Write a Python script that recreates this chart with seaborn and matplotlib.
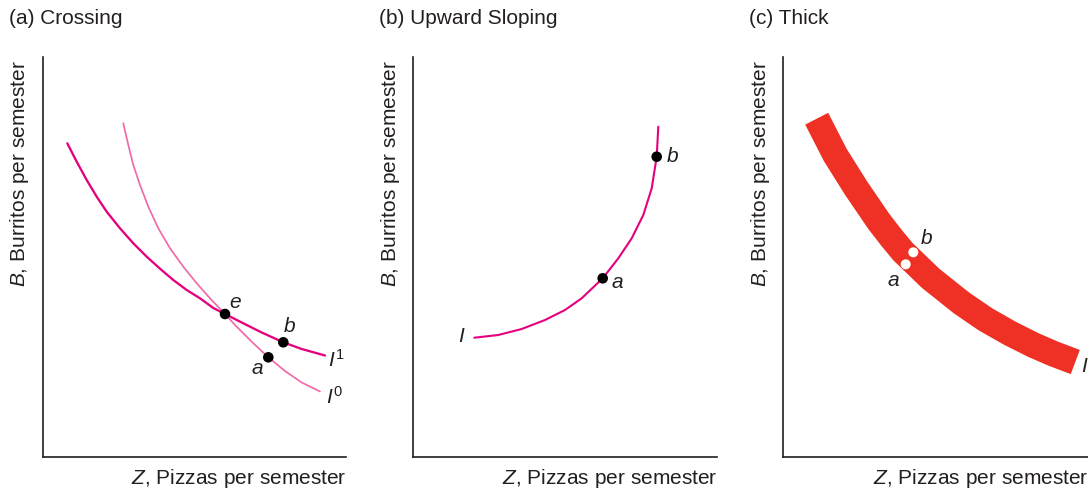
import numpy as np
import pandas as pd
import matplotlib
matplotlib.use("Agg")
import matplotlib.pyplot as plt
import seaborn as sns

# Valeurs (unités = pixels depuis l'origine des axes)
# (a) Crossing
i1_z = [24.3, 33.7, 43.7, 53.7, 63.7, 77, 90.3, 103.7, 117, 130.3, 143.7, 157, 170.3,
        182, 198.7, 218.7, 240.3, 258.7, 282]
i1_b = [313.7, 295.3, 277, 260.3, 245.3, 228.7, 213.7, 200.3, 188.3, 177, 167, 158.7, 149,
        143, 134.5, 124.5, 114.7, 108, 101.5]
i0_z = [80.3, 85.3, 90.3, 97, 105.3, 115.3, 127, 140.3, 153.7, 167, 182, 192, 208.7,
        225.3, 242, 258.7, 277]
i0_b = [333.7, 312, 292, 272, 250.3, 228.7, 208.7, 190.3, 173.7, 158.7, 143, 132, 115.3,
        99.7, 86, 74.5, 65.5]
pts_a_nom = ["e", "b", "a"]
pts_a_z = [182, 240.3, 225.3]
pts_a_b = [143, 114.7, 99.7]

# (b) Upward Sloping
up_z = [61.3, 85.3, 108.7, 132, 152, 168.7, 189.7, 205.3, 218.7, 230.3, 238.7, 243.7, 245.3]
up_b = [119.3, 122, 128, 137, 147, 158.7, 178.7, 198.7, 218.7, 242, 268.7, 300.3, 330.3]
pts_b_nom = ["a", "b"]
pts_b_z = [189.7, 243.7]
pts_b_b = [178.7, 300.3]

# (c) Thick (milieu de la bande)
thick_z = [33.7, 52.3, 73.2, 84.6, 96, 108.9, 120, 147.6, 178.3, 202.7, 227, 250.3,
           270.3, 292.3]
thick_b = [338.3, 302, 268.7, 252, 235.3, 218.7, 205.3, 178.7, 154.2, 137.5, 123.7, 112,
           103.3, 95]
pts_c_nom = ["a", "b"]
pts_c_z = [122.7, 130.3]
pts_c_b = [192.7, 204.7]

titres = ["(a) Crossing", "(b) Upward Sloping", "(c) Thick"]

sns.set_style("white")
plt.rcParams['font.family'] = ['Liberation Sans', 'DejaVu Sans']
plt.rcParams['mathtext.fontset'] = 'custom'
plt.rcParams['mathtext.rm'] = 'Liberation Sans'
plt.rcParams['mathtext.it'] = 'Liberation Sans:italic'

W, H = 1088, 491
fig = plt.figure(figsize=(W / 100, H / 100), dpi=100)

fs = 15
rose_fonce = "#E5007D"
rose_clair = "#F06BA8"
rouge = "#EE3124"
noir = "#231F20"

# positions des axes (origine en pixels, largeur)
origines = [(43, 457, 303), (413, 457, 304), (783, 457, 305)]
axes = []
for (x0, y0, w), titre in zip(origines, titres):
    ax = fig.add_axes([x0 / W, (H - y0) / H, w / W, 400 / H])
    ax.set_xlim(0, w)
    ax.set_ylim(0, 400)
    ax.set_xticks([])
    ax.set_yticks([])
    for s in ["top", "right"]:
        ax.spines[s].set_visible(False)
    for s in ["left", "bottom"]:
        ax.spines[s].set_color(noir)
        ax.spines[s].set_linewidth(1.2)
    ax.patch.set_alpha(0)
    ax.text(1.0, -21 / 400, "$\\mathit{Z}$, Pizzas per semester", transform=ax.transAxes,
            ha="right", va="center", fontsize=fs, color=noir)
    ax.text(-23 / w, 397 / 400, "$\\mathit{B}$, Burritos per semester", transform=ax.transAxes,
            ha="center", va="top", rotation=90, fontsize=fs, color=noir)
    fig.text((x0 - 34) / W, 1 - 19 / H, titre, ha="left", va="center", fontsize=fs, color=noir)
    axes.append(ax)

# (a)
ax = axes[0]
sns.lineplot(x=i0_z, y=i0_b, sort=False, estimator=None, color=rose_clair, lw=1.25,
             solid_joinstyle="round", ax=ax)
sns.lineplot(x=i1_z, y=i1_b, sort=False, estimator=None, color=rose_fonce, lw=1.65,
             solid_joinstyle="round", ax=ax)
sns.scatterplot(x=pts_a_z, y=pts_a_b, color="black", s=58, edgecolor="none", ax=ax, zorder=5)
ax.text(192, 155, "e", style="italic", fontsize=fs, ha="center", va="center", color=noir)
ax.text(247, 130, "b", style="italic", fontsize=fs, ha="center", va="center", color=noir)
ax.text(214, 88, "a", style="italic", fontsize=fs, ha="center", va="center", color=noir)
ax.text(285, 97, "$I^{\\mathrm{1}}$", fontsize=fs, ha="left", va="center", color=noir)
ax.text(283, 60, "$I^{\\mathrm{0}}$", fontsize=fs, ha="left", va="center", color=noir)

# (b)
ax = axes[1]
sns.lineplot(x=up_z, y=up_b, sort=False, estimator=None, color=rose_fonce, lw=1.5,
             solid_joinstyle="round", ax=ax)
sns.scatterplot(x=pts_b_z, y=pts_b_b, color="black", s=58, edgecolor="none", ax=ax, zorder=5)
ax.text(48, 120, "I", style="italic", fontsize=fs, ha="center", va="center", color=noir)
ax.text(204, 174, "a", style="italic", fontsize=fs, ha="center", va="center", color=noir)
ax.text(260, 300, "b", style="italic", fontsize=fs, ha="center", va="center", color=noir)

# (c)
ax = axes[2]
sns.lineplot(x=thick_z, y=thick_b, sort=False, estimator=None, color=rouge, lw=18.6,
             solid_capstyle="butt", solid_joinstyle="round", ax=ax)
sns.scatterplot(x=pts_c_z, y=pts_c_b, color="white", s=52, edgecolor="none", ax=ax, zorder=5)
ax.text(144, 219, "b", style="italic", fontsize=fs, ha="center", va="center", color=noir)
ax.text(110, 176, "a", style="italic", fontsize=fs, ha="center", va="center", color=noir)
ax.text(298, 90, "I", style="italic", fontsize=fs, ha="left", va="center", color=noir)

for ax in axes:
    leg = ax.get_legend()
    if leg is not None:
        leg.remove()

fig.savefig("out.png", dpi=100)
